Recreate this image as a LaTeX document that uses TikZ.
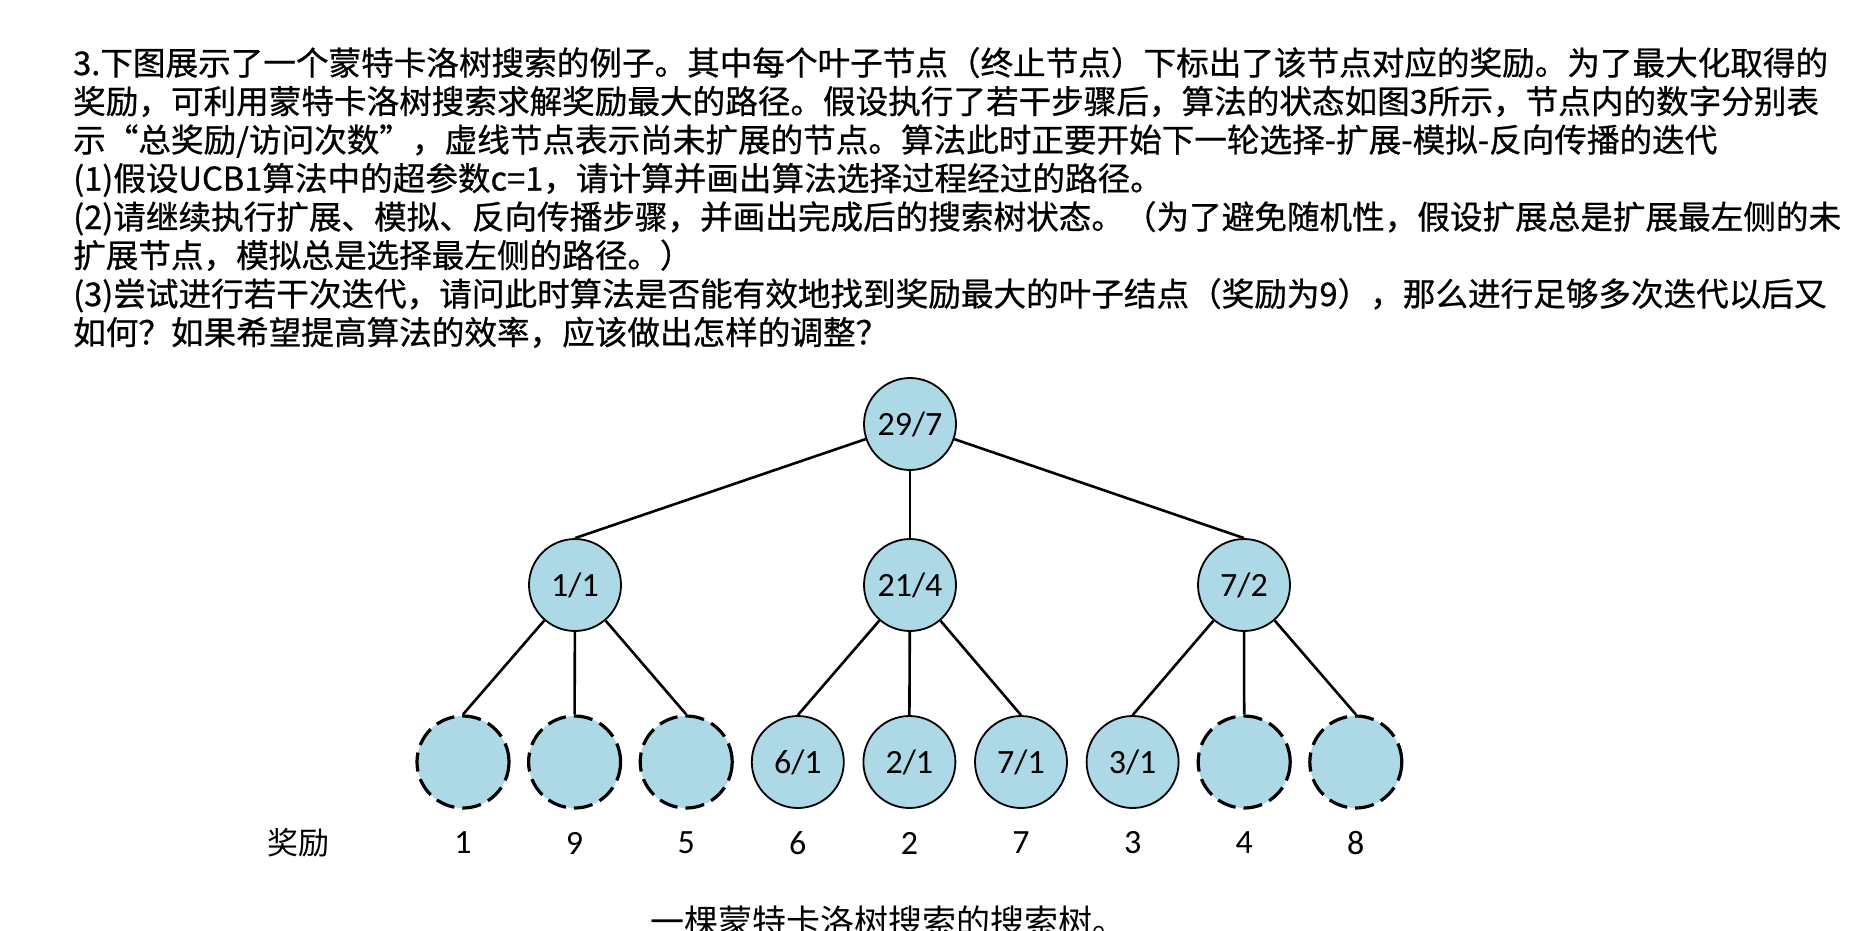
\documentclass[tikz,border=0pt]{standalone}
\usepackage{fontspec}
\setmainfont{Carlito}
\newfontfamily\cjk{Noto Sans CJK SC}
\newfontfamily\cjkb[FakeBold=0.7]{Noto Sans CJK SC}
\definecolor{nodeblue}{RGB}{173,216,230}
\begin{document}
\begin{tikzpicture}[x=1pt,y=-1pt,
  hdr/.style={anchor=base west,inner sep=0pt,font=\cjkb\fontsize{32.6}{38}\selectfont},
  tnode/.style={circle,minimum size=92pt,inner sep=0pt,fill=nodeblue,draw=black,line width=1.8pt,font=\fontsize{34}{38}\selectfont},
  open/.style={circle,minimum size=92pt,inner sep=0pt,fill=nodeblue,draw=black,line width=3.2pt,dash pattern=on 19pt off 8pt},
  edge/.style={line width=2.6pt,draw=black},
  rew/.style={inner sep=0pt,font=\fontsize{34}{38}\selectfont},
]
\useasboundingbox (0,0) rectangle (1862,930);
% header text
\node[hdr] (t1) at (73,75) {3.下图展示了一个蒙特卡洛树搜索的例子。其中每个叶子节点（终止节点）下标出了该节点对应的奖励。为了最大化取得的};
\node[hdr] (t2) at (73,113.5) {奖励，可利用蒙特卡洛树搜索求解奖励最大的路径。假设执行了若干步骤后，算法的状态如图3所示，节点内的数字分别表};
\node[hdr] (t3) at (73,152) {示“总奖励/访问次数”，虚线节点表示尚未扩展的节点。算法此时正要开始下一轮选择-扩展-模拟-反向传播的迭代};
\node[hdr] (t4) at (73,190.5) {(1)假设UCB1算法中的超参数c=1，请计算并画出算法选择过程经过的路径。};
\node[hdr] (t5) at (73,229) {(2)请继续执行扩展、模拟、反向传播步骤，并画出完成后的搜索树状态。（为了避免随机性，假设扩展总是扩展最左侧的未};
\node[hdr] (t6) at (73,267.5) {扩展节点，模拟总是选择最左侧的路径。）};
\node[hdr] (t7) at (73,306) {(3)尝试进行若干次迭代，请问此时算法是否能有效地找到奖励最大的叶子结点（奖励为9），那么进行足够多次迭代以后又};
\node[hdr] (t8) at (73,344.5) {如何？如果希望提高算法的效率，应该做出怎样的调整？};
% tree
\node[tnode] (r) at (910,424) {29/7};
\node[tnode] (a) at (575,585) {1/1};
\node[tnode] (b) at (910,585) {21/4};
\node[tnode] (c) at (1244,585) {7/2};
\node[open]  (l1) at (463,762) {};
\node[open]  (l2) at (574.6,762) {};
\node[open]  (l3) at (686.2,762) {};
\node[tnode] (l4) at (797.8,762) {6/1};
\node[tnode] (l5) at (909.4,762) {2/1};
\node[tnode] (l6) at (1021,762) {7/1};
\node[tnode] (l7) at (1132.6,762) {3/1};
\node[open]  (l8) at (1244.2,762) {};
\node[open]  (l9) at (1355.8,762) {};
\draw[edge] (r) -- (a.north);
\draw[edge] (r) -- (b.north);
\draw[edge] (r) -- (c.north);
\draw[edge] (a) -- (l1.north);
\draw[edge] (a) -- (l2.north);
\draw[edge] (a) -- (l3.north);
\draw[edge] (b) -- (l4.north);
\draw[edge] (b) -- (l5.north);
\draw[edge] (b) -- (l6.north);
\draw[edge] (c) -- (l7.north);
\draw[edge] (c) -- (l8.north);
\draw[edge] (c) -- (l9.north);
% rewards
\node[rew,font=\cjk\fontsize{31}{36}\selectfont] (wl) at (298,843) {奖励};
\node[rew] (w1) at (463,843) {1};
\node[rew] (w2) at (574.6,843) {9};
\node[rew] (w3) at (686.2,843) {5};
\node[rew] (w4) at (797.8,843) {6};
\node[rew] (w5) at (909.4,843) {2};
\node[rew] (w6) at (1021,843) {7};
\node[rew] (w7) at (1132.6,843) {3};
\node[rew] (w8) at (1244.2,843) {4};
\node[rew] (w9) at (1355.8,843) {8};
% caption
\node[anchor=west,inner sep=0pt,font=\cjk\fontsize{34}{38}\selectfont] (cap) at (650,922) {一棵蒙特卡洛树搜索的搜索树。};
\end{tikzpicture}
\end{document}
